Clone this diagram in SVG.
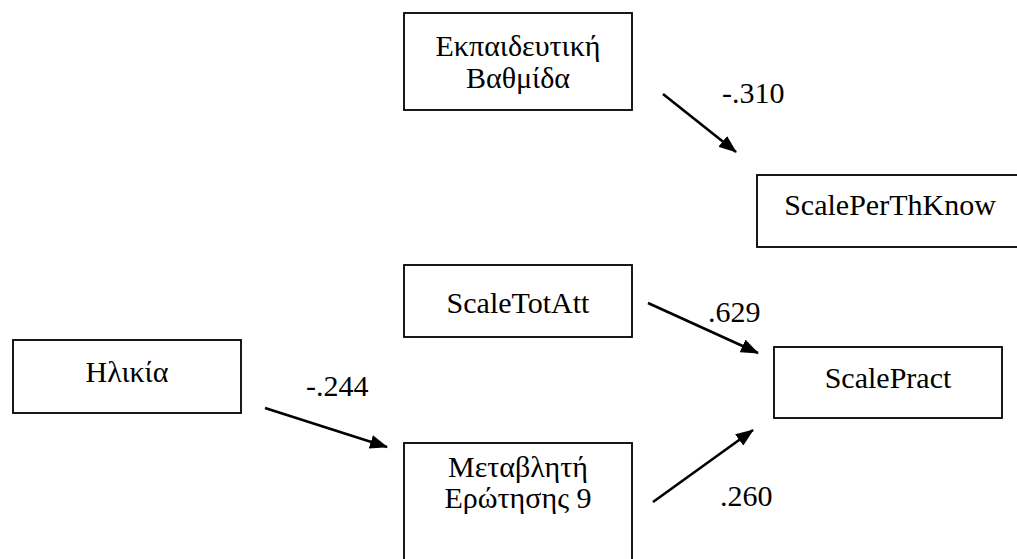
<svg xmlns="http://www.w3.org/2000/svg" width="1017" height="559" viewBox="0 0 1017 559">
<defs>
<style>
.box{fill:#fff;stroke:#000;stroke-width:1.8}
text{font-family:'Liberation Serif','Times New Roman',serif;font-size:30px;fill:#000}
.t{text-anchor:middle}
.c{stroke:#000;stroke-width:2.6;fill:none;marker-end:url(#ah)}
</style>
<marker id="ah" markerWidth="18" markerHeight="14" viewBox="0 0 18 14" refX="17" refY="7" orient="auto" markerUnits="userSpaceOnUse">
<path d="M0,0 L18,7 L0,14 Z" fill="#000"/>
</marker>
</defs>
<rect width="1017" height="559" fill="#fff"/>
<g id="edu">
<rect class="box" x="404" y="13" width="228" height="97"/>
<text class="t" x="518" y="56">Εκπαιδευτική</text>
<text class="t" x="518" y="88">Βαθμίδα</text>
</g>
<g id="perth">
<rect class="box" x="757" y="175" width="266" height="72"/>
<text class="t" x="890" y="215">ScalePerThKnow</text>
</g>
<g id="totatt">
<rect class="box" x="404" y="265" width="228" height="72"/>
<text class="t" x="518" y="313">ScaleTotAtt</text>
</g>
<g id="age">
<rect class="box" x="13" y="340" width="228" height="73"/>
<text class="t" x="127" y="382">Ηλικία</text>
</g>
<g id="pract">
<rect class="box" x="774" y="347" width="228" height="71"/>
<text class="t" x="888" y="388">ScalePract</text>
</g>
<g id="q9">
<rect class="box" x="404" y="443" width="228" height="130"/>
<text class="t" x="518" y="477">Μεταβλητή</text>
<text class="t" x="518" y="508">Ερώτησης 9</text>
</g>
<g id="connectors">
<line class="c" x1="663" y1="94" x2="736" y2="152"/>
<line class="c" x1="648" y1="303" x2="758" y2="353"/>
<line class="c" x1="265" y1="408" x2="387" y2="447"/>
<line class="c" x1="653" y1="502" x2="753" y2="430"/>
<text x="722" y="103">-.310</text>
<text x="708" y="322">.629</text>
<text x="306" y="396">-.244</text>
<text x="720" y="506">.260</text>
</g>
</svg>
